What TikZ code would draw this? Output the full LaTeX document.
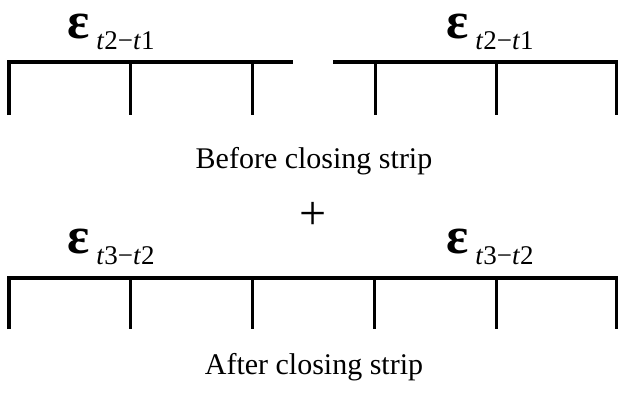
\documentclass[tikz,border=0pt]{standalone}
\usepackage{fontspec}
\setmainfont{Liberation Serif}
\usetikzlibrary{positioning}
\newcommand{\epsdiff}[2]{{\fontsize{52}{52}\selectfont\bfseries ε}\kern7pt\raisebox{-11pt}{\fontsize{27}{27}\selectfont\textit{t}#1−\textit{t}#2}}

\begin{document}
\begin{tikzpicture}[x=1pt,y=-1pt,
    stripline/.style={line width=3.2pt},
    stripwall/.style={line width=3pt},
    caption/.style={font=\fontsize{30}{30}\selectfont,inner sep=0pt},
    epslabel/.style={inner sep=0pt,anchor=base west}]
    \useasboundingbox (0,0) rectangle (618,392);

    % Before closing strip: two open strips
    \draw[stripline] (9,115) -- (9,62) -- (293,62);
    \draw[stripline] (333,62) -- (617,62) -- (617,115);
    \foreach \x in {130,252,375,496}
      \draw[stripwall] (\x,62) -- (\x,115);
    \node[epslabel] (epsAL) at (67,38) {\epsdiff{2}{1}};
    \node[epslabel] (epsAR) at (446,38) {\epsdiff{2}{1}};
    \node[caption,anchor=base] (before) at (314,168) {Before closing strip};

    % Plus
    \node[font=\fontsize{48}{48}\selectfont,inner sep=0pt] (plus) at (313,216) {+};

    % After closing strip: one strip
    \draw[stripline] (9,329) -- (9,278) -- (617,278) -- (617,329);
    \foreach \x in {130,252,374,496}
      \draw[stripwall] (\x,278) -- (\x,329);
    \node[epslabel] (epsBL) at (67,253) {\epsdiff{3}{2}};
    \node[epslabel] (epsBR) at (446,253) {\epsdiff{3}{2}};
    \node[caption,anchor=base] (after) at (314,374) {After closing strip};
\end{tikzpicture}
\end{document}
